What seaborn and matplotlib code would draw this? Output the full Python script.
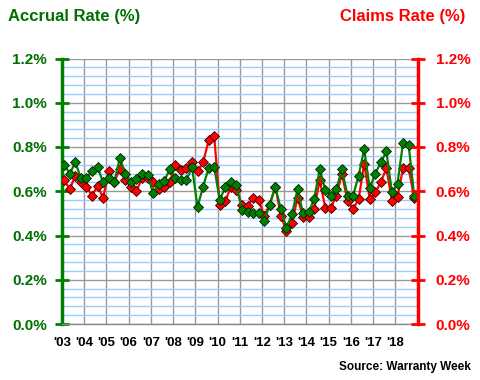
import matplotlib
matplotlib.use('Agg')
import matplotlib.pyplot as plt
import seaborn as sns
import numpy as np
import pandas as pd

years = list(range(2003, 2019))
quarters = [1, 2, 3, 4]
year_labels = ["'03", "'04", "'05", "'06", "'07", "'08", "'09", "'10",
               "'11", "'12", "'13", "'14", "'15", "'16", "'17", "'18"]

accrual = [0.72, 0.68, 0.73, 0.66,
           0.66, 0.69, 0.71, 0.64,
           0.66, 0.64, 0.75, 0.68,
           0.64, 0.655, 0.68, 0.675,
           0.59, 0.635, 0.645, 0.70,
           0.66, 0.65, 0.65, 0.71,
           0.53, 0.62, 0.705, 0.71,
           0.56, 0.62, 0.64, 0.63,
           0.515, 0.505, 0.50, 0.50,
           0.465, 0.54, 0.62, 0.52,
           0.435, 0.495, 0.61, 0.50,
           0.505, 0.565, 0.70, 0.605,
           0.58, 0.61, 0.70, 0.58,
           0.58, 0.67, 0.79, 0.615,
           0.68, 0.73, 0.78, 0.595,
           0.635, 0.82, 0.81, 0.58]

claims = [0.65, 0.61, 0.67, 0.64,
          0.62, 0.58, 0.625, 0.57,
          0.69, 0.64, 0.70, 0.65,
          0.62, 0.60, 0.66, 0.66,
          0.64, 0.61, 0.62, 0.64,
          0.72, 0.695, 0.705, 0.73,
          0.69, 0.73, 0.83, 0.85,
          0.54, 0.555, 0.62, 0.605,
          0.54, 0.535, 0.57, 0.56,
          0.49, 0.54, 0.62, 0.49,
          0.42, 0.455, 0.57, 0.485,
          0.485, 0.52, 0.65, 0.525,
          0.525, 0.58, 0.68, 0.555,
          0.52, 0.565, 0.725, 0.565,
          0.595, 0.64, 0.705, 0.555,
          0.575, 0.705, 0.705, 0.57]

t = [y + (q - 1) * 0.25 + 0.1 for y in years for q in quarters]
df = pd.DataFrame({'t': t, 'accrual': accrual, 'claims': claims})

sns.set_theme(style='white')
plt.rcParams['font.family'] = ['Liberation Sans', 'DejaVu Sans']
plt.rcParams['font.weight'] = 'bold'

GREEN = '#008000'
TGREEN = '#007000'
RED = '#ff0000'

fig = plt.figure(figsize=(4.8, 3.8), dpi=100)
ax = fig.add_axes([62 / 480, 1 - 324 / 380, (417.5 - 62) / 480, (324 - 58.5) / 380])

ax.set_xlim(2003, 2019)
ax.set_ylim(0, 1.2)

# grid
ax.set_yticks(np.arange(0, 1.21, 0.2))
ax.set_yticks(np.arange(0, 1.21, 0.04), minor=True)
ax.set_xticks(list(range(2003, 2020)))
ax.set_xticklabels(year_labels + [''])
ax.grid(which='minor', axis='y', color='#99ccff', lw=1.0, zorder=0)
ax.grid(which='major', axis='y', color='#999999', lw=1.0, zorder=0)
ax.grid(which='major', axis='x', color='#999999', lw=1.0, zorder=0)
ax.set_axisbelow(True)

sns.lineplot(data=df, x='t', y='claims', ax=ax, color=RED, lw=1.6,
             marker='D', markersize=4.6, markerfacecolor=RED,
             markeredgecolor='#300000', markeredgewidth=0.6, zorder=3)
sns.lineplot(data=df, x='t', y='accrual', ax=ax, color=GREEN, lw=1.6,
             marker='D', markersize=4.6, markerfacecolor=GREEN,
             markeredgecolor='#002000', markeredgewidth=0.6, zorder=4)
ax.set_xlabel('')
ax.set_ylabel('')

ax.yaxis.set_major_formatter(matplotlib.ticker.FuncFormatter(lambda v, p: f'{v:.1f}%'))
ax.tick_params(axis='y', which='major', colors=GREEN, labelcolor=TGREEN,
               direction='inout', length=10, width=2, labelsize=11, pad=6)
ax.tick_params(axis='y', which='minor', length=0)
ax.tick_params(axis='x', which='major', colors='#888888', labelcolor='black',
               direction='out', length=4, width=1, labelsize=9.5, pad=5)
for lab in ax.get_xticklabels() + ax.get_yticklabels():
    lab.set_fontweight('bold')

for s in ['top', 'right']:
    ax.spines[s].set_visible(False)
ax.spines['left'].set_color(GREEN)
ax.spines['left'].set_linewidth(2.5)
ax.spines['bottom'].set_color('#888888')
ax.spines['bottom'].set_linewidth(1)

ax2 = ax.twinx()
ax2.set_ylim(0, 1.2)
ax2.set_yticks(np.arange(0, 1.21, 0.2))
ax2.yaxis.set_major_formatter(matplotlib.ticker.FuncFormatter(lambda v, p: f'{v:.1f}%'))
ax2.tick_params(axis='y', colors=RED, labelcolor=RED, direction='inout',
                length=10, width=2, labelsize=11, pad=8)
for lab in ax2.get_yticklabels():
    lab.set_fontweight('bold')
for s in ['top', 'left', 'bottom']:
    ax2.spines[s].set_visible(False)
ax2.spines['right'].set_color(RED)
ax2.spines['right'].set_linewidth(2.5)

fig.text(8 / 480, 1 - 16 / 380, 'Accrual Rate (%)', color=TGREEN, fontsize=12,
         fontweight='bold', ha='left', va='center')
fig.text(465 / 480, 1 - 16 / 380, 'Claims Rate (%)', color=RED, fontsize=12,
         fontweight='bold', ha='right', va='center')
fig.text(471 / 480, 1 - 367 / 380, 'Source: Warranty Week', color='black', fontsize=8.5,
         fontweight='bold', ha='right', va='center')

fig.savefig('out.png', dpi=100)
